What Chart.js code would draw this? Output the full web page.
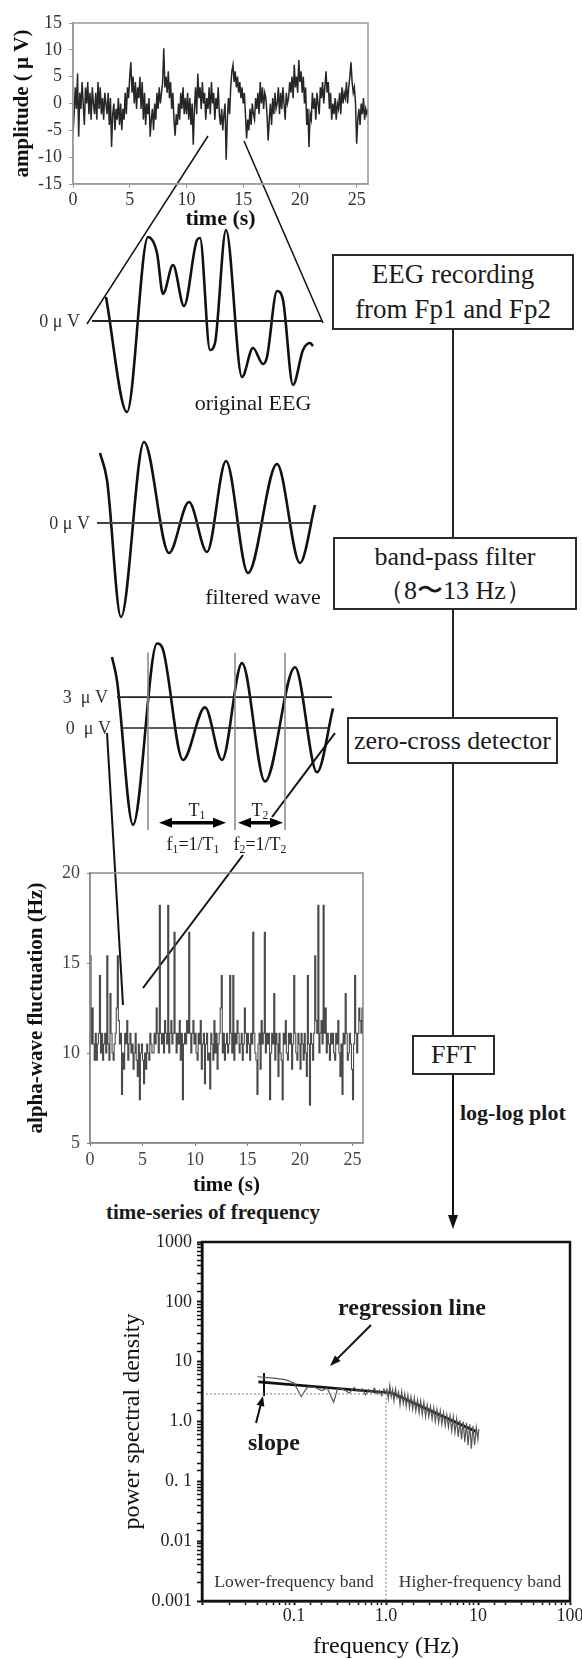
<!DOCTYPE html>
<html>
<head>
<meta charset="utf-8">
<script src="https://cdn.jsdelivr.net/npm/chart.js@4.4.1/dist/chart.umd.min.js"></script>
<style>
  html, body { margin: 0; padding: 0; background: #fff; }
  body { width: 582px; height: 1659px; position: relative; overflow: hidden;
         font-family: "Liberation Serif", "Times New Roman", serif; color: #1a1a1a; }
  canvas { position: absolute; }
  svg { position: absolute; left: 0; top: 0; }
  .t { position: absolute; white-space: pre; line-height: 1; }
  .box { position: absolute; border: 2px solid #2a2a2a; box-sizing: border-box; background: #fff;
         display: flex; align-items: center; justify-content: center; text-align: center; line-height: 1.3; }
  sub { font-size: 0.65em; vertical-align: -0.25em; }
</style>
</head>
<body>
<svg id="deco" width="582" height="1659"></svg>
<canvas id="eeg"></canvas>
<canvas id="orig"></canvas>
<canvas id="filt"></canvas>
<canvas id="zc"></canvas>
<canvas id="alpha"></canvas>
<canvas id="psd"></canvas>

<script>
// ---- raw EEG (top panel), one value every 0.1 s, rows = 1 s ----
var eegStep = 0.1;
var eegAmp = [
  -5.5, -2, 3, -1, 5.6, -6.2, 2, -1, 4, 0,
  -4, 3, 0, 4, -2, 2, -3, 3, 0, -2,
  2, -3, 4, -1, 3, -2, 1, -3, 2, 0,
  -2, 2, -4, 1, -8.1, -2, 0, -5, -1, -3,
  1, -4, 0, -5, -1, -3, 2, -2, 3, 1,
  5, 7.7, 2, 5, 0, 4, -1, 3, 1, 5,
  -1, 4, -3, 2, -4, 0, -2, 1, -6.2, -3,
  -1, -5, 0, -3, 2, -1, 3, 0, 2, 4,
  10.3, 3, 5, 2, 6, 1, 4, -1, 2, -3,
  -6, -2, -4, 0, -3, 2, -1, 3, -2, 1,
  -2, 2, -3, 1, -4, 0, -7.7, -1, 3, -2,
  5.6, 1, 3, -1, 4, 0, 2, -3, 1, -1,
  3, -2, 4, 0, 2, -3, 1, -1, 3, -2,
  -4, -1, -5, -2, 0, -10.5, -3, 1, -2, 3,
  6, 7.2, 4, 6, 3, 5, 2, 4, 1, 3,
  0, 2, -2, -6.5, -3, -5, -1, -4, 0, -2,
  -3, 1, -1, 2, -2, 4, 0, 3, -1, 2,
  1, -2, -6.9, -3, 0, -4, 1, -2, 2, -1,
  0, 3, -2, 2, -1, 3, 0, -3, 2, 0,
  1, 4, 2, 5, 1, 7.2, 3, 5, 2, 8.1,
  4, 6, 2, 5, 0, 3, -4, -1, -8.1, -2,
  -3, 2, -1, 1, -3, 2, 0, -2, 3, 1,
  4, 0, 3, 6, 2, 4, -1, 2, -3, 0,
  -2, 1, -3, 0, -1, 2, -2, 3, 0, 2,
  1, 4, 0, 3, 5, 7.7, 4, 2, 3, 0,
  -7.5, -3, -1, -4, 0, -2, 1, -3, -1, -2,
  -1
];
var eegTimeTicks = [0, 5, 10, 15, 20, 25];
var eegAmpTicks = [-15, -10, -5, 0, 5, 10, 15];

// ---- zoomed segments (time in ms, amplitude in uV) ----
var origT = [28, 70, 112, 130, 142, 162, 184, 210, 216, 236, 246, 268, 300, 322, 342, 350, 370, 382, 402, 422, 436, 442];
var origV = [2.4, -9.1, 8.4, 6.8, 2.7, 5.6, 1.5, 8.1, 8.3, -2.9, -2.2, 9.1, -5.6, -2.7, -4.3, -3.6, 3.0, 2.1, -6.4, -2.9, -2.2, -2.5];
var origZero = [0, 460];

var filtT = [16, 30, 58, 104, 154, 194, 230, 268, 312, 370, 416, 446];
var filtV = [7.0, 4.3, -9.4, 8.1, -3.0, 2.1, -2.9, 6.2, -5.0, 5.9, -4.0, 1.8];
var filtZero = [10, 436];

var zcT = [40, 50, 82, 130, 142, 182, 226, 260, 300, 346, 406, 450, 482];
var zcV = [6.9, 4.6, -9.4, 8.2, 7.6, -3.1, 2.0, -3.1, 6.3, -5.2, 5.9, -4.3, 1.9];
var zcZero = [60, 476];
var zcThreshold = 3;
var zcThresholdSpan = [50, 480];
var zcCross = [112, 286, 386];
var zcCrossRange = [-9.9, 7.3];
var periodSpans = [[130, 272], [288, 386]];
var periodLevel = -9.2;

// ---- alpha-wave frequency time series, one value every 0.1 s ----
var alphaStep = 0.1;
var alphaHz = [
  15.4, 10.5, 12.5, 10.5, 9.6, 11.1, 9.6, 10.5, 11.1, 14.3,
  10.0, 11.1, 9.6, 10.5, 11.1, 10.0, 15.4, 10.5, 9.6, 13.3,
  11.1, 10.0, 9.6, 10.5, 11.1, 12.5, 15.4, 11.8, 10.5, 11.1,
  7.7, 10.0, 9.1, 11.1, 10.5, 11.8, 9.6, 10.5, 11.1, 10.0,
  10.5, 9.1, 10.0, 11.1, 9.6, 8.7, 10.5, 7.4, 10.0, 10.5,
  9.6, 8.3, 10.0, 9.1, 10.5, 10.0, 9.6, 11.1, 10.5, 10.0,
  10.0, 11.1, 10.5, 12.5, 11.1, 10.0, 18.2, 11.1, 10.5, 11.1,
  10.0, 11.8, 11.1, 10.5, 18.2, 10.0, 11.1, 11.8, 10.5, 11.1,
  16.7, 11.1, 10.0, 11.1, 10.5, 11.8, 9.6, 11.1, 7.4, 10.5,
  11.1, 10.5, 11.8, 11.1, 16.7, 11.1, 10.0, 11.1, 11.8, 10.5,
  11.1, 10.0, 9.6, 11.1, 10.5, 11.8, 9.1, 10.5, 11.1, 8.3,
  10.5, 11.1, 9.6, 10.0, 8.0, 11.1, 10.5, 9.6, 11.8, 10.0,
  11.1, 9.1, 10.5, 11.1, 12.5, 14.3, 10.0, 11.1, 9.6, 10.5,
  11.1, 10.0, 10.5, 14.3, 11.1, 10.0, 14.3, 9.6, 11.1, 10.5,
  11.8, 11.1, 10.0, 10.5, 11.1, 9.6, 10.5, 12.5, 11.1, 10.0,
  11.1, 10.5, 9.6, 11.1, 10.5, 16.7, 11.1, 10.0, 9.6, 7.7,
  10.5, 11.1, 9.1, 11.8, 10.5, 11.1, 16.7, 10.0, 11.1, 10.5,
  11.1, 7.4, 10.0, 11.1, 10.5, 13.3, 9.6, 11.1, 10.5, 8.7,
  11.1, 10.0, 9.6, 7.4, 11.1, 10.5, 11.8, 10.0, 9.6, 11.1,
  10.5, 11.1, 9.1, 10.5, 14.3, 11.1, 10.0, 9.6, 11.1, 10.5,
  9.1, 11.1, 10.5, 9.6, 11.1, 10.0, 8.7, 14.3, 10.5, 7.1,
  11.1, 10.5, 9.6, 11.1, 15.4, 11.8, 11.1, 18.2, 10.0, 11.1,
  11.8, 10.5, 18.2, 11.1, 12.5, 10.0, 11.1, 10.5, 9.6, 11.1,
  10.5, 11.1, 10.0, 9.6, 11.1, 10.5, 11.8, 10.0, 8.7, 10.5,
  7.7, 11.1, 10.5, 13.3, 11.1, 9.6, 10.0, 11.1, 10.5, 9.1,
  7.4, 10.5, 14.3, 11.1, 10.0, 11.1, 12.5, 11.8, 11.1, 12.5,
  11.1
];
var alphaTimeTicks = [0, 5, 10, 15, 20, 25];
var alphaHzTicks = [5, 10, 15, 20];

// ---- power spectrum (log-log) ----
var psdFreq = [
  0.04, 0.06, 0.08, 0.1, 0.12, 0.14, 0.17, 0.2, 0.23, 0.27, 0.3, 0.35, 0.4, 0.45, 0.5,
  0.55, 0.6, 0.65, 0.7, 0.75, 0.8, 0.85, 0.9, 0.95, 1.0,
  1.02, 1.06, 1.1, 1.14, 1.18, 1.22, 1.27, 1.32, 1.37, 1.42, 1.48, 1.54, 1.6, 1.66, 1.73,
  1.8, 1.87, 1.95, 2.03, 2.11, 2.2, 2.29, 2.38, 2.48, 2.58, 2.69, 2.8, 2.92, 3.04, 3.17,
  3.3, 3.44, 3.58, 3.73, 3.89, 4.05, 4.22, 4.4, 4.58, 4.77, 4.97, 5.18, 5.4, 5.62, 5.86,
  6.1, 6.36, 6.62, 6.9, 7.19, 7.49, 7.8, 8.13, 8.47, 8.82, 9.19, 9.57, 9.97, 10.2
];
var psdPow = [
  5.6, 5.3, 5.0, 4.4, 2.6, 3.8, 3.7, 3.3, 3.6, 2.1, 3.7, 3.4, 3.0, 3.7, 3.2,
  3.5, 2.8, 3.4, 3.1, 3.6, 2.9, 3.3, 2.7, 3.5, 3.0,
  3.6, 2.4, 4.0, 2.6, 3.4, 2.2, 3.5, 2.5, 3.1, 1.9, 3.2, 2.0, 2.9, 1.8, 2.8,
  1.7, 2.6, 1.6, 2.5, 1.5, 2.3, 1.4, 2.2, 1.3, 2.1, 1.2, 1.9, 1.2, 1.8, 1.1,
  1.7, 1.0, 1.6, 0.95, 1.5, 0.9, 1.4, 0.85, 1.3, 0.8, 1.25, 0.7, 1.2, 0.65, 1.1,
  0.55, 1.05, 0.5, 1.0, 0.45, 0.95, 0.4, 0.9, 0.35, 0.85, 0.4, 0.8, 0.5, 0.75
];
var fitLowFreq = [0.041, 1.16];
var fitLowPow = [4.6, 3.0];
var fitHighFreq = [1.16, 9.5];
var fitHighPow = [3.0, 0.68];
var bandSplitFreq = 1.0;
var refPow = 2.9;
var psdFreqRange = [0.01, 100];
var psdPowRange = [0.001, 1000];
var psdFreqTicks = [0.1, 1, 10, 100];
var psdFreqLabels = ['0.1', '1.0', '10', '100'];
var psdPowTicks = [0.001, 0.01, 0.1, 1, 10, 100, 1000];
var psdPowLabels = ['0.001', '0.01', '0. 1', '1.0', '10', '100', '1000'];

// ------------------------------------------------------------------
var SERIF = '"Liberation Serif", "Times New Roman", serif';
Chart.defaults.font.family = SERIF;
Chart.defaults.color = '#2a2a2a';
Chart.defaults.animation = false;

var framePlugin = {
  id: 'frame',
  afterDatasetsDraw: function (chart, args, opts) {
    if (!opts || !opts.color) return;
    var a = chart.chartArea, ctx = chart.ctx;
    ctx.save();
    ctx.strokeStyle = opts.color;
    ctx.lineWidth = opts.width || 1;
    ctx.strokeRect(a.left, a.top, a.right - a.left, a.bottom - a.top);
    ctx.restore();
  }
};

function place(id, area, pad) {
  var c = document.getElementById(id);
  c.width = area.w + pad.l + pad.r;
  c.height = area.h + pad.t + pad.b;
  c.style.left = (area.x - pad.l) + 'px';
  c.style.top = (area.y - pad.t) + 'px';
  return c;
}
function fixX(h) { return function (s) { s.height = h; s.paddingLeft = 0; s.paddingRight = 0; }; }
function fixY(w) { return function (s) { s.width = w; s.paddingTop = 0; s.paddingBottom = 0; }; }
function setTicks(list) { return function (s) { s.ticks = list.map(function (v) { return { value: v }; }); }; }
function pts(xs, ys) { return xs.map(function (x, i) { return { x: x, y: ys[i] }; }); }
function span(a, b, y) { return [{ x: a, y: y }, { x: b, y: y }]; }

// ---- top EEG chart ----
var eegArea = { x: 73, y: 23, w: 295, h: 161 };
var eegPad = { l: 73, t: 15, r: 14, b: 49 };
new Chart(place('eeg', eegArea, eegPad), {
  type: 'line',
  data: { datasets: [{
    data: eegAmp.map(function (v, i) { return { x: i * eegStep, y: v }; }),
    borderColor: '#262626', borderWidth: 1.5, pointRadius: 0, tension: 0
  }] },
  options: {
    responsive: false,
    layout: { padding: { left: 0, top: eegPad.t, right: eegPad.r, bottom: 0 } },
    plugins: { legend: { display: false }, tooltip: { enabled: false }, frame: { color: '#9a9a9a', width: 1.5 } },
    scales: {
      x: {
        type: 'linear', min: 0, max: 26,
        afterBuildTicks: setTicks(eegTimeTicks), afterFit: fixX(eegPad.b),
        grid: { drawOnChartArea: false, tickLength: 4, color: '#9a9a9a' },
        border: { color: '#9a9a9a', width: 1.5 },
        ticks: { font: { size: 18 }, padding: 1, maxRotation: 0, color: '#333' },
        title: { display: true, text: 'time (s)', font: { size: 22, weight: 'bold' }, padding: 0, color: '#111' }
      },
      y: {
        min: -15, max: 15,
        afterBuildTicks: setTicks(eegAmpTicks), afterFit: fixY(eegPad.l),
        grid: { drawOnChartArea: false, tickLength: 4, color: '#9a9a9a' },
        border: { color: '#9a9a9a', width: 1.5 },
        ticks: { font: { size: 18 }, padding: 7, color: '#333' },
        title: { display: true, text: 'amplitude ( μ V)', font: { size: 21, weight: 'bold' }, padding: { top: 10 }, color: '#111' }
      }
    }
  },
  plugins: [framePlugin]
});

// ---- zoomed wave charts (no axes) ----
var wavePad = { l: 10, t: 10, r: 10, b: 10 };
function waveOptions() {
  return {
    responsive: false,
    layout: { padding: 10 },
    plugins: { legend: { display: false }, tooltip: { enabled: false } },
    scales: {
      x: { type: 'linear', min: 0, max: 490, display: false },
      y: { min: -10, max: 10, display: false }
    }
  };
}
function waveSet(data) {
  return { data: data, borderColor: '#111', borderWidth: 2.6, pointRadius: 0,
           cubicInterpolationMode: 'monotone', clip: false };
}
function flatSet(data, color, width) {
  return { data: data, borderColor: color, borderWidth: width, pointRadius: 0, tension: 0, clip: false };
}

new Chart(place('orig', { x: 92, y: 221, w: 245, h: 200 }, wavePad), {
  type: 'line',
  data: { datasets: [
    flatSet(span(origZero[0], origZero[1], 0), '#222', 1.8),
    waveSet(pts(origT, origV))
  ] },
  options: waveOptions()
});

new Chart(place('filt', { x: 92, y: 423, w: 245, h: 200 }, wavePad), {
  type: 'line',
  data: { datasets: [
    flatSet(span(filtZero[0], filtZero[1], 0), '#444', 2),
    waveSet(pts(filtT, filtV))
  ] },
  options: waveOptions()
});

var periodArrows = {
  id: 'periodArrows',
  afterDatasetsDraw: function (chart) {
    var ctx = chart.ctx, xs = chart.scales.x, ys = chart.scales.y;
    var y = ys.getPixelForValue(periodLevel);
    ctx.save();
    ctx.fillStyle = '#000';
    ctx.strokeStyle = '#000';
    ctx.lineWidth = 3.5;
    periodSpans.forEach(function (s) {
      var a = xs.getPixelForValue(s[0]) + 2, b = xs.getPixelForValue(s[1]) - 2;
      ctx.beginPath(); ctx.moveTo(a + 8, y); ctx.lineTo(b - 8, y); ctx.stroke();
      ctx.beginPath(); ctx.moveTo(a, y); ctx.lineTo(a + 13, y - 5); ctx.lineTo(a + 13, y + 5); ctx.closePath(); ctx.fill();
      ctx.beginPath(); ctx.moveTo(b, y); ctx.lineTo(b - 13, y - 5); ctx.lineTo(b - 13, y + 5); ctx.closePath(); ctx.fill();
    });
    ctx.restore();
  }
};

var zcSets = zcCross.map(function (t) {
  return flatSet([{ x: t, y: zcCrossRange[0] }, { x: t, y: zcCrossRange[1] }], '#8c8c8c', 1.6);
});
zcSets.push(flatSet(span(zcThresholdSpan[0], zcThresholdSpan[1], zcThreshold), '#222', 1.6));
zcSets.push(flatSet(span(zcZero[0], zcZero[1], 0), '#222', 1.6));
zcSets.push(waveSet(pts(zcT, zcV)));
new Chart(place('zc', { x: 92, y: 625, w: 245, h: 206 }, wavePad), {
  type: 'line',
  data: { datasets: zcSets },
  options: waveOptions(),
  plugins: [periodArrows]
});

// ---- alpha-wave fluctuation chart ----
var alphaArea = { x: 90, y: 873, w: 273, h: 270 };
var alphaPad = { l: 90, t: 12, r: 15, b: 55 };
new Chart(place('alpha', alphaArea, alphaPad), {
  type: 'line',
  data: { datasets: [{
    data: alphaHz.map(function (v, i) { return { x: i * alphaStep, y: v }; }),
    borderColor: '#4a4a4a', borderWidth: 1.1, pointRadius: 0, stepped: 'before'
  }] },
  options: {
    responsive: false,
    layout: { padding: { left: 0, top: alphaPad.t, right: alphaPad.r, bottom: 0 } },
    plugins: { legend: { display: false }, tooltip: { enabled: false }, frame: { color: '#8a8a8a', width: 1.5 } },
    scales: {
      x: {
        type: 'linear', min: 0, max: 26,
        afterBuildTicks: setTicks(alphaTimeTicks), afterFit: fixX(alphaPad.b),
        grid: { drawOnChartArea: false, tickLength: 3, color: '#777' },
        border: { color: '#8a8a8a', width: 1.5 },
        ticks: { font: { size: 18 }, padding: 3, maxRotation: 0, color: '#444' },
        title: { display: true, text: 'time (s)', font: { size: 21, weight: 'bold' }, padding: 0, color: '#111' }
      },
      y: {
        min: 5, max: 20,
        afterBuildTicks: setTicks(alphaHzTicks), afterFit: fixY(alphaPad.l),
        grid: { drawOnChartArea: false, tickLength: 3, color: '#777' },
        border: { color: '#8a8a8a', width: 1.5 },
        ticks: { font: { size: 18 }, padding: 7, color: '#444' },
        title: { display: true, text: 'alpha-wave fluctuation (Hz)', font: { size: 21, weight: 'bold' }, padding: { top: 24 }, color: '#111' }
      }
    }
  },
  plugins: [framePlugin]
});

// ---- power spectral density chart ----
function isIn(list, v) {
  for (var i = 0; i < list.length; i++) if (Math.abs(Math.log10(v) - Math.log10(list[i])) < 1e-6) return i;
  return -1;
}
var psdArea = { x: 202, y: 1242, w: 368, h: 359 };
var psdPad = { l: 202, t: 14, r: 12, b: 58 };
new Chart(place('psd', psdArea, psdPad), {
  type: 'line',
  data: { datasets: [
    { data: [{ x: psdFreqRange[0], y: refPow }, { x: bandSplitFreq, y: refPow }, { x: bandSplitFreq, y: psdPowRange[0] }],
      borderColor: '#9a9a9a', borderWidth: 1.3, borderDash: [2, 2], pointRadius: 0, tension: 0 },
    { data: pts(psdFreq, psdPow), borderColor: '#555', borderWidth: 1.2, pointRadius: 0, tension: 0 },
    { data: pts(fitLowFreq, fitLowPow), borderColor: '#111', borderWidth: 2.6, pointRadius: 0, tension: 0 },
    { data: pts(fitHighFreq, fitHighPow), borderColor: '#111', borderWidth: 2.8, pointRadius: 0, tension: 0 }
  ] },
  options: {
    responsive: false,
    layout: { padding: { left: 0, top: psdPad.t, right: psdPad.r, bottom: 0 } },
    plugins: { legend: { display: false }, tooltip: { enabled: false }, frame: { color: '#111', width: 2.5 } },
    scales: {
      x: {
        type: 'logarithmic', min: psdFreqRange[0], max: psdFreqRange[1], afterFit: fixX(psdPad.b),
        grid: { drawOnChartArea: false, tickLength: 4, tickColor: '#111',
                tickWidth: function (c) { return isIn(psdPowTicks, c.tick.value) >= 0 ? 2 : 1.5; } },
        border: { color: '#111', width: 2.5 },
        ticks: { autoSkip: false, maxRotation: 0, font: { size: 18 }, padding: 0, color: '#222',
                 callback: function (v) { var i = isIn(psdFreqTicks, v); return i >= 0 ? psdFreqLabels[i] : ''; } },
        title: { display: true, text: 'frequency (Hz)', font: { size: 24, lineHeight: 1 }, padding: 0, color: '#111' }
      },
      y: {
        type: 'logarithmic', min: psdPowRange[0], max: psdPowRange[1], afterFit: fixY(psdPad.l),
        grid: { drawOnChartArea: false, tickLength: 5, tickColor: '#111',
                tickWidth: function (c) { return isIn(psdPowTicks, c.tick.value) >= 0 ? 2 : 1.5; } },
        border: { color: '#111', width: 2.5 },
        ticks: { autoSkip: false, font: { size: 18 }, padding: 5, color: '#222',
                 callback: function (v) { var i = isIn(psdPowTicks, v); return i >= 0 ? psdPowLabels[i] : ''; } },
        title: { display: true, text: 'power spectral density', font: { size: 24 }, padding: { top: 118 }, color: '#111' }
      }
    }
  },
  plugins: [framePlugin]
});

// ---- annotation text, flow-chart boxes and connector lines ----
function label(html, x, y, size, opt) {
  opt = opt || {};
  var d = document.createElement('div');
  d.className = 't';
  d.innerHTML = html;
  d.style.left = x + 'px';
  d.style.top = y + 'px';
  d.style.fontSize = size + 'px';
  if (opt.bold) d.style.fontWeight = 'bold';
  if (opt.color) d.style.color = opt.color;
  var tx = opt.align === 'right' ? '-100%' : (opt.align === 'left' ? '0' : '-50%');
  d.style.transform = 'translate(' + tx + ', -50%)';
  document.body.appendChild(d);
}
function box(html, x, y, w, h, size) {
  var d = document.createElement('div');
  d.className = 'box';
  d.innerHTML = html;
  d.style.left = x + 'px'; d.style.top = y + 'px';
  d.style.width = w + 'px'; d.style.height = h + 'px';
  d.style.fontSize = size + 'px';
  document.body.appendChild(d);
}

label('0 μ V', 80, 321, 18, { align: 'right', color: '#333' });
label('original EEG', 253, 403, 22);
label('0 μ V', 90, 523, 18, { align: 'right', color: '#333' });
label('filtered wave', 263, 597, 22);
label('3  μ V', 108, 697, 18, { align: 'right', color: '#333' });
label('0  μ V', 111, 728, 18, { align: 'right', color: '#333' });
label('T<sub>1</sub>', 197, 811, 18);
label('T<sub>2</sub>', 260, 811, 18);
label('f<sub>1</sub>=1/T<sub>1</sub>', 193, 845, 18);
label('f<sub>2</sub>=1/T<sub>2</sub>', 260, 845, 18);
label('time-series of frequency', 213, 1212, 21, { bold: true });
label('log-log plot', 460, 1113, 22, { bold: true, align: 'left' });
label('regression line', 412, 1307, 24, { bold: true });
label('slope', 274, 1442, 24, { bold: true });
label('Lower-frequency band', 294, 1582, 17.5, { color: '#333' });
label('Higher-frequency band', 480, 1582, 17.5, { color: '#333' });

box('EEG recording<br>from Fp1 and Fp2', 332, 254, 242, 76, 27);
box('band-pass filter<br>（8〜13 Hz）', 333, 537, 244, 73, 26);
box('zero-cross detector', 347, 717, 211, 47, 26);
box('FFT', 412, 1035, 83, 40, 26);

var svg = document.getElementById('deco');
var parts = [];
function seg(x1, y1, x2, y2, w, c) {
  parts.push('<line x1="' + x1 + '" y1="' + y1 + '" x2="' + x2 + '" y2="' + y2 +
             '" stroke="' + (c || '#111') + '" stroke-width="' + w + '"/>');
}
function arrow(x1, y1, x2, y2, w, len, half) {
  var dx = x2 - x1, dy = y2 - y1, d = Math.sqrt(dx * dx + dy * dy);
  var ux = dx / d, uy = dy / d, bx = x2 - ux * len, by = y2 - uy * len;
  seg(x1, y1, bx + ux * 2, by + uy * 2, w);
  parts.push('<polygon fill="#111" points="' + x2 + ',' + y2 + ' ' +
             (bx - uy * half) + ',' + (by + ux * half) + ' ' + (bx + uy * half) + ',' + (by - ux * half) + '"/>');
}
// zoom triangle
seg(208, 136, 87, 324, 1.5);
seg(244, 141, 323, 323, 1.5);
// connectors from zero-cross panel to frequency series
seg(107, 733, 123, 1005, 2);
seg(335, 733, 272, 817, 2);
seg(243, 855, 143, 988, 2);
// flow line
seg(453, 330, 453, 537, 2, '#222');
seg(453, 610, 453, 717, 2, '#222');
seg(453, 764, 453, 1035, 2, '#222');
arrow(453, 1075, 453, 1229, 2, 14, 5);
// PSD annotations
arrow(371, 1325, 330, 1366, 2, 11, 4);
arrow(256, 1423, 263, 1396, 2, 10, 4);
seg(264, 1373, 264, 1396, 2);
svg.innerHTML = parts.join('');
</script>
</body>
</html>
